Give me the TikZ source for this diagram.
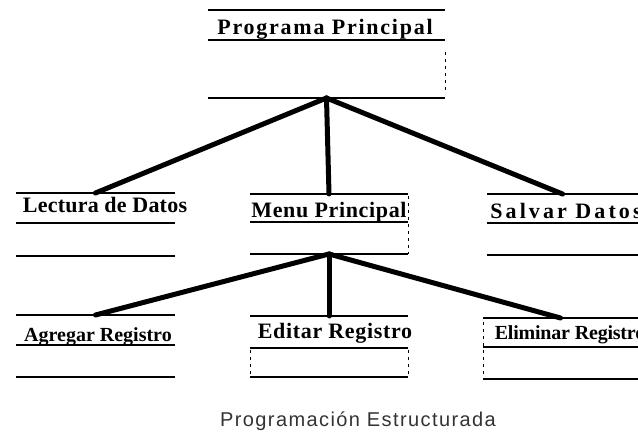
\documentclass[tikz,border=0pt]{standalone}
\usepackage{fontspec}
\setmainfont{Liberation Serif}
\setsansfont{Liberation Sans}
\newcommand{\espaciado}[2]{\begingroup\edef\hacer{\noexpand\addfontfeature{LetterSpace=#1}}\hacer #2\endgroup}
\tikzset{
  linea/.style={line width=1.3pt},
  lado/.style={line width=0.8pt,dash pattern=on 3pt off 4pt},
  conector/.style={line width=5pt,line cap=round},
  titulo/.style={font=\bfseries,inner sep=0pt,anchor=base}
}
\begin{document}
\begin{tikzpicture}[x=1pt,y=-1pt]
\useasboundingbox (0,0) rectangle (638,438);
% modulos: nombre/izq/der/arriba/titulo/abajo/x texto/base texto/tamano/espaciado/texto
\foreach \n/\xa/\xb/\ya/\yb/\yc/\xt/\bt/\tam/\ls/\t in {
  prog/208/445/10/40/98/325/35/22/8/Programa Principal,
  lect/16/175/193/223/256/105/213/22/1/Lectura de Datos,
  menu/250/408/194/222/254/329/218/22/3/Menu Principal,
  salv/487/638/194/223/255/566/219/22/14/Salvar Datos,
  agre/16/175/315/345/377/98/342/20/0/Agregar Registro,
  edit/250/408/316/348/377/335/339/22/3/Editar Registro,
  elim/483/638/318/347/379/570/340/20/-1/Eliminar Registro}{
	\draw[linea] (\xa,\ya) -- (\xb,\ya);
	\draw[linea] (\xa,\yb) -- (\xb,\yb);
	\draw[linea] (\xa,\yc) -- (\xb,\yc);
	\node[titulo] (\n) at (\xt,\bt) {\fontsize{\tam}{\tam}\selectfont\espaciado{\ls}{\t}};
	\coordinate (\n-arr) at ({(\xa+\xb)/2},\ya);
	\coordinate (\n-aba) at ({(\xa+\xb)/2},\yc);}
% restos de los lados
\draw[lado] (445,52) -- (445,92);
\draw[lado] (408,196) -- (408,254);
\draw[lado] (250,350) -- (250,377);
\draw[lado] (408,350) -- (408,377);
\draw[lado] (483,322) -- (483,377);
\foreach \a/\b in {prog/lect,prog/menu,prog/salv,menu/agre,menu/edit,menu/elim}
	\draw[conector] (\a-aba) -- (\b-arr);
\node[font=\sffamily\fontsize{20}{22}\selectfont,text=black!80,inner sep=0pt,anchor=base] (pie) at (358,427) {\espaciado{7}{Programación Estructurada}};
\end{tikzpicture}
\end{document}
